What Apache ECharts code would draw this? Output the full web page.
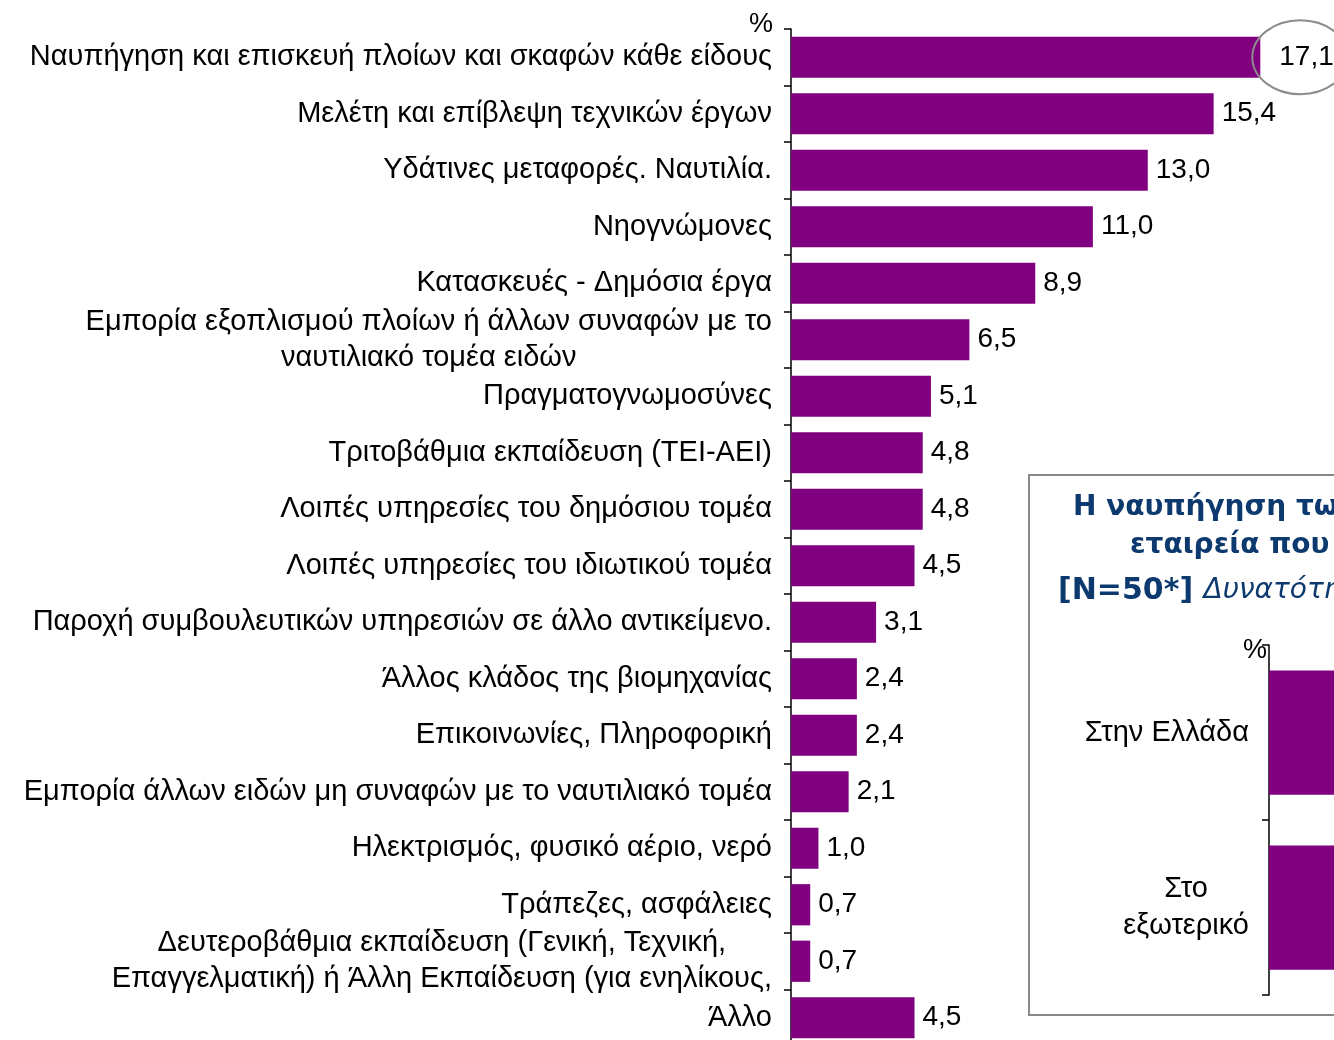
<!DOCTYPE html>
<html>
<head>
<meta charset="utf-8">
<script src="https://cdn.jsdelivr.net/npm/echarts@6/dist/echarts.min.js"></script>
<style>
html, body { margin: 0; padding: 0; background: #fff; }
#chart { width: 1334px; height: 1040px; }
</style>
</head>
<body>
<div id="chart"></div>
<script>
// κύριο διάγραμμα
const categories = [
    'Ναυπήγηση και επισκευή πλοίων και σκαφών κάθε είδους',
    'Μελέτη και επίβλεψη τεχνικών έργων',
    'Υδάτινες μεταφορές. Ναυτιλία.',
    'Νηογνώμονες',
    'Κατασκευές - Δημόσια έργα',
    'Εμπορία εξοπλισμού πλοίων ή άλλων συναφών με το\nναυτιλιακό τομέα ειδών',
    'Πραγματογνωμοσύνες',
    'Τριτοβάθμια εκπαίδευση (ΤΕΙ-ΑΕΙ)',
    'Λοιπές υπηρεσίες του δημόσιου τομέα',
    'Λοιπές υπηρεσίες του ιδιωτικού τομέα',
    'Παροχή συμβουλευτικών υπηρεσιών σε άλλο αντικείμενο.',
    'Άλλος κλάδος της βιομηχανίας',
    'Επικοινωνίες, Πληροφορική',
    'Εμπορία άλλων ειδών μη συναφών με το ναυτιλιακό τομέα',
    'Ηλεκτρισμός, φυσικό αέριο, νερό',
    'Τράπεζες, ασφάλειες',
    'Δευτεροβάθμια εκπαίδευση (Γενική, Τεχνική,\nΕπαγγελματική) ή Άλλη Εκπαίδευση (για ενηλίκους,',
    'Άλλο'
]
const values = [17.1, 15.4, 13.0, 11.0, 8.9, 6.5, 5.1, 4.8, 4.8, 4.5, 3.1, 2.4, 2.4, 2.1, 1.0, 0.7, 0.7, 4.5]

// ένθετο διάγραμμα
const insetCategories = ['Στην Ελλάδα', 'Στο\nεξωτερικό']
const insetValues = [72, 44]
const insetTitle = [
    'Η ναυπήγηση των πλοίων της',
    'εταιρεία που εργάζεστε'
]
const insetNote = '[N=50*]'
const insetNoteItalic = 'Δυνατότητα πολλαπλών απαντήσεων'

const purple = '#800080'
const font = 'Liberation Sans, Arial, sans-serif'
const titleFont = '"DejaVu Sans", Verdana, sans-serif'
const navy = '#0d3a6e'
const fmt = v => v.toFixed(1).replace('.', ',')

// ετικέτες πολλών γραμμών: κεντραρισμένες μεταξύ τους
const wrapLabel = s => s.split('\n').map(l => '{c|' + l + '}').join('\n')

const mainData = values.map((v, i) => ({
    value: v,
    label: i === 0 ? { distance: 19 } : undefined
}))

const axisCommon = {
    axisLine: { lineStyle: { color: '#000', width: 1.5 } },
    axisTick: { show: true, inside: false, length: 7, lineStyle: { color: '#000', width: 1.5 } }
}

const option = {
    animation: false,
    grid: [
        { left: 791, top: 29, height: 1017, right: 49, outerBoundsMode: 'none' },
        { left: 1269, top: 645, height: 350, right: -335, outerBoundsMode: 'none' }
    ],
    xAxis: [
        { gridIndex: 0, type: 'value', min: 0, max: 18, show: false },
        { gridIndex: 1, type: 'value', min: 0, max: 100, show: false }
    ],
    yAxis: [
        Object.assign({
            gridIndex: 0,
            type: 'category',
            inverse: true,
            data: categories,
            axisLabel: {
                margin: 19,
                formatter: wrapLabel,
                rich: { c: { align: 'center', fontSize: 29, fontFamily: font, color: '#000', lineHeight: 36 } }
            }
        }, axisCommon),
        Object.assign({
            gridIndex: 1,
            type: 'category',
            inverse: true,
            data: insetCategories,
            axisLabel: {
                margin: 20,
                formatter: wrapLabel,
                rich: { c: { align: 'center', fontSize: 29, fontFamily: font, color: '#000', lineHeight: 37 } }
            }
        }, axisCommon)
    ],
    series: [
        {
            type: 'bar',
            xAxisIndex: 0,
            yAxisIndex: 0,
            data: mainData,
            barCategoryGap: '27%',
            itemStyle: { color: purple },
            label: {
                show: true,
                position: 'right',
                distance: 8,
                formatter: p => fmt(p.value),
                fontSize: 28,
                fontFamily: font,
                color: '#000'
            }
        },
        {
            type: 'bar',
            xAxisIndex: 1,
            yAxisIndex: 1,
            data: insetValues,
            barCategoryGap: '29%',
            itemStyle: { color: purple }
        }
    ],
    graphic: [
        {
            type: 'rect',
            z: -10,
            shape: { x: 1029, y: 475, width: 400, height: 540 },
            style: { fill: '#fff', stroke: '#888', lineWidth: 2 }
        },
        {
            type: 'text',
            x: 1073, y: 508,
            style: { text: insetTitle[0], font: 'bold 28px ' + titleFont, fill: navy, verticalAlign: 'middle' }
        },
        {
            type: 'text',
            x: 1130, y: 546,
            style: { text: insetTitle[1], font: 'bold 28px ' + titleFont, fill: navy, verticalAlign: 'middle' }
        },
        {
            type: 'text',
            x: 1058, y: 591,
            style: {
                text: '{b|' + insetNote + ' }{i|' + insetNoteItalic + '}',
                verticalAlign: 'middle',
                rich: {
                    b: { font: 'bold 30px ' + titleFont, fill: navy },
                    i: { font: 'italic 28px ' + titleFont, fill: navy }
                }
            }
        },
        {
            type: 'text',
            x: 773, y: 25,
            style: { text: '%', font: '27px ' + font, fill: '#000', align: 'right', verticalAlign: 'middle' }
        },
        {
            type: 'text',
            x: 1267, y: 651,
            style: { text: '%', font: '27px ' + font, fill: '#000', align: 'right', verticalAlign: 'middle' }
        }
    ]
}

const chart = echarts.init(document.getElementById('chart'))
chart.setOption(option)

// έλλειψη γύρω από την τιμή της πρώτης μπάρας
const p = chart.convertToPixel({ xAxisIndex: 0, yAxisIndex: 0 }, [values[0], 0])
chart.setOption({
    graphic: option.graphic.concat([{
        type: 'ellipse',
        z: 100,
        shape: { cx: p[0] + 40, cy: p[1], rx: 48, ry: 37 },
        style: { fill: 'none', stroke: '#8c8c8c', lineWidth: 2 }
    }])
})
</script>
</body>
</html>
